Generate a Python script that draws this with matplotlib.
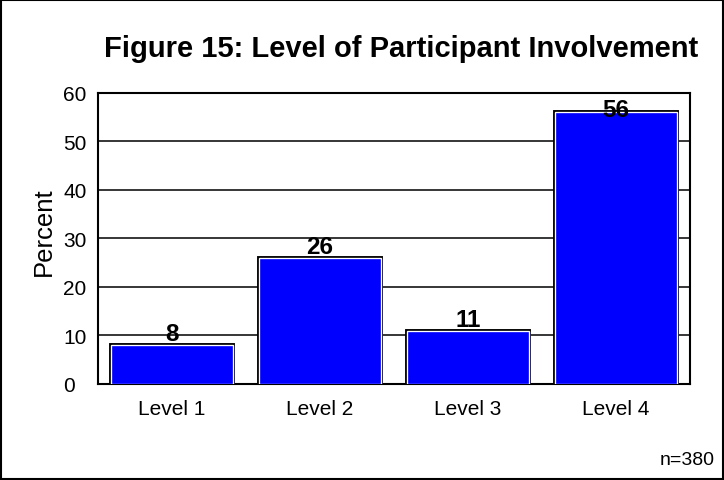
import matplotlib.pyplot as plt
import matplotlib.patheffects as pe
from matplotlib.patches import Rectangle

plt.rcParams['font.family'] = ['Liberation Sans', 'DejaVu Sans']

levels = ['Level 1', 'Level 2', 'Level 3', 'Level 4']
percents = [8, 26, 11, 56]
yticks = [0, 10, 20, 30, 40, 50, 60]

fig = plt.figure(figsize=(7.24, 4.81), dpi=100)
ax = fig.add_axes([0.1354, 0.1996, 0.8177, 0.606])

# horizontal grid
ax.set_axisbelow(True)
ax.yaxis.grid(True, color='black', linewidth=1.1)

x = range(len(levels))
bars = ax.bar(x, percents, width=0.825, color='#0000ff', edgecolor='white',
              linewidth=0.95, zorder=3)
for b in bars:
    b.set_path_effects([pe.Stroke(linewidth=2.8, foreground='black'), pe.Normal()])

# value labels, kept inside the plot area
for xi, v in zip(x, percents):
    ax.text(xi, min(v + 1.0, 55.2), str(v), ha='center', va='baseline',
            fontsize=17.5, fontweight='bold', zorder=5)

ax.set_xlim(-0.5, 3.5)
ax.set_ylim(0, 60)
ax.set_yticks(yticks)
ax.set_xticks(list(x))
ax.set_xticklabels(levels)
ax.tick_params(axis='x', length=0, labelsize=15, pad=11)
ax.tick_params(axis='y', length=0, labelsize=15, pad=25.2)
for lbl in ax.get_yticklabels():
    lbl.set_horizontalalignment('left')
for s in ax.spines.values():
    s.set_linewidth(1.5)

fig.text(0.0608, 0.5177, 'Percent', rotation=90, ha='center', va='center', fontsize=18.5)
fig.text(0.554, 1 - 56.7 / 481, 'Figure 15: Level of Participant Involvement',
         ha='center', va='baseline', fontsize=21, fontweight='bold')
fig.text(715 / 724, 1 - 465 / 481, 'n=380', ha='right', va='baseline', fontsize=14)

# border round the figure
fig.patches.append(Rectangle((0.002, 0.003), 0.996, 0.994, transform=fig.transFigure,
                             fill=False, edgecolor='black', linewidth=1.5))

fig.savefig('out.png', dpi=100)
